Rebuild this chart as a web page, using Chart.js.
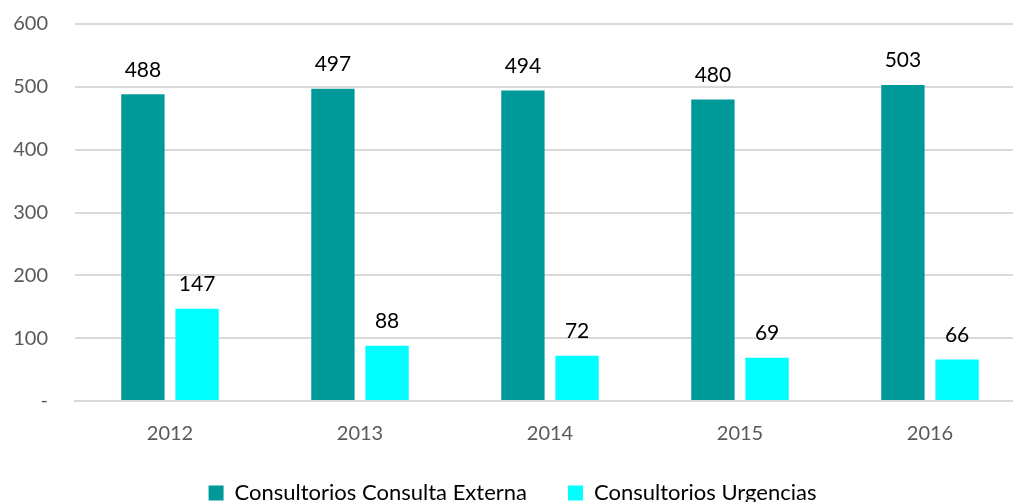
<!DOCTYPE html>
<html>
<head>
<meta charset="utf-8">
<script src="https://cdn.jsdelivr.net/npm/chart.js@4.4.0/dist/chart.umd.min.js"></script>
<style>
  html, body { margin: 0; padding: 0; background: #fff; overflow: hidden; }
  #wrap { width: 1025px; height: 514px; }
</style>
</head>
<body>
<div id="wrap"><canvas id="chart"></canvas></div>
<script>
const years = ["2012", "2013", "2014", "2015", "2016"];
const externa = [488, 497, 494, 480, 503];
const urgencias = [147, 88, 72, 69, 66];
const yTicks = [0, 100, 200, 300, 400, 500, 600];

// draws the value above each bar
const barLabels = {
    id: "barLabels",
    afterDatasetsDraw(chart) {
        const ctx = chart.ctx;
        ctx.save();
        ctx.font = "21px Lato";
        ctx.fillStyle = "#000";
        ctx.textAlign = "center";
        ctx.textBaseline = "bottom";
        chart.data.datasets.forEach((ds, i) => {
            chart.getDatasetMeta(i).data.forEach((bar, j) => {
                ctx.fillText(ds.data[j], bar.x, bar.y - 14);
            });
        });
        ctx.restore();
    }
};

new Chart(document.getElementById("chart"), {
    type: "bar",
    data: {
        labels: years,
        datasets: [
            {
                label: "Consultorios Consulta Externa",
                data: externa,
                backgroundColor: "#009999",
            },
            {
                label: "Consultorios Urgencias",
                data: urgencias,
                backgroundColor: "#00FFFF",
            },
        ],
    },
    options: {
        responsive: true,
        maintainAspectRatio: false,
        animation: false,
        categoryPercentage: 0.57,
        barPercentage: 0.8,
        layout: { padding: { top: 24, left: 0, right: 0, bottom: 0 } },
        plugins: {
            legend: {
                position: "bottom",
                labels: {
                    font: { family: "Lato", size: 22 },
                    color: "#000",
                    boxWidth: 15,
                    boxHeight: 15,
                    padding: 41,
                },
            },
            tooltip: { enabled: false },
        },
        scales: {
            x: {
                grid: { display: false, drawTicks: false },
                border: { color: "#d9d9d9", width: 2 },
                afterFit(axis) {
                    axis.height = 40;
                },
                ticks: {
                    font: { family: "Lato", size: 20 },
                    color: "#595959",
                    padding: 21,
                },
            },
            y: {
                min: 0,
                max: 600,
                afterBuildTicks(axis) {
                    axis.ticks = yTicks.map(v => ({ value: v }));
                },
                afterFit(axis) {
                    axis.width = 75;
                    axis.paddingTop = 0;
                    axis.paddingBottom = 0;
                },
                grid: { color: "#d9d9d9", lineWidth: 2, drawTicks: false },
                border: { display: false },
                ticks: {
                    font: { family: "Lato", size: 20 },
                    color: "#595959",
                    padding: 27,
                    callback: v => (v === 0 ? "-" : v),
                },
            },
        },
    },
    plugins: [barLabels],
});
</script>
</body>
</html>
